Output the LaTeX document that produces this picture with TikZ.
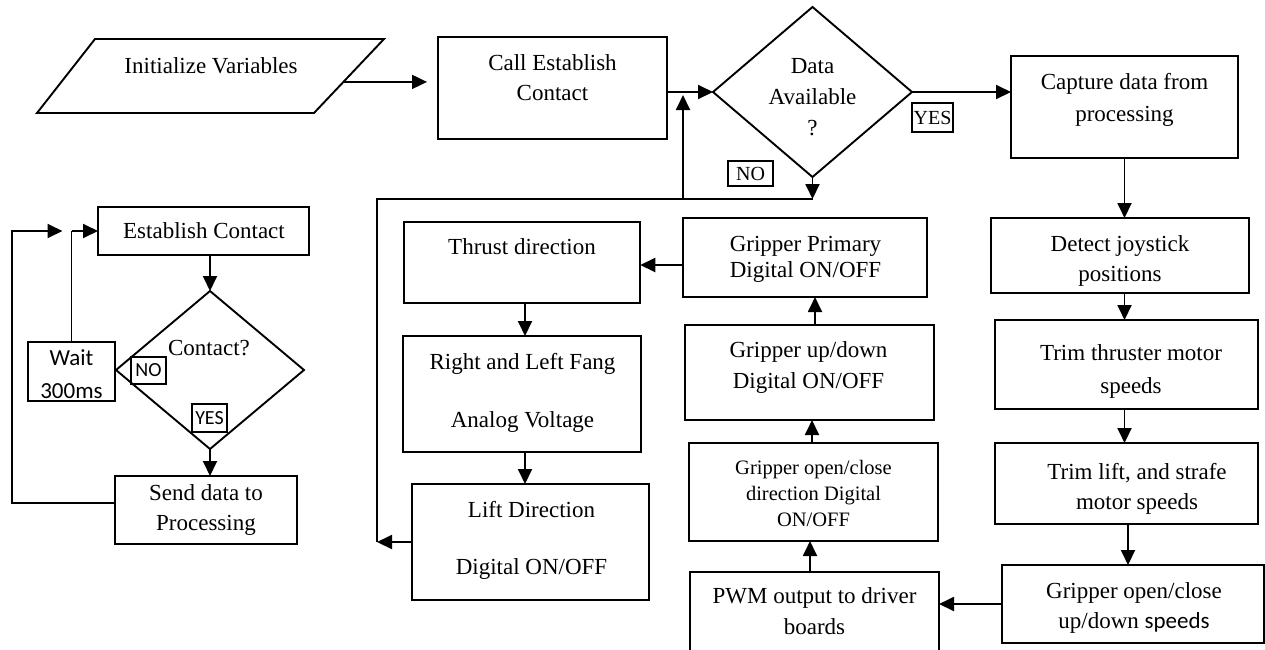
\documentclass[tikz,border=0pt]{standalone}
\usepackage{fontspec}
\setmainfont{Liberation Serif}
\newfontfamily\calfont{Carlito}
\usetikzlibrary{arrows.meta,shapes.geometric,calc}

\tikzset{
  box/.style={draw, line width=1.9pt, inner sep=0pt, outer sep=0pt},
  dia/.style={draw, diamond, line width=1.9pt, inner sep=0pt, outer sep=0pt},
  txt/.style={inner sep=0pt, align=center, text depth=0.22em,
              font=\fontsize{23}{30}\selectfont},
  tag/.style={draw, line width=1.4pt, inner sep=0pt, outer sep=0pt,
              font=\fontsize{20}{20}\selectfont},
  wire/.style={line width=1.9pt},
  arr/.style={wire, -{Triangle[length=15pt,width=14pt]}},
}

\begin{document}
\begin{tikzpicture}[x=1pt,y=-1pt]
\useasboundingbox (0,0) rectangle (1265,649);

% ---------------- main loop: top row ----------------
% input parallelogram
\coordinate (initbl) at (37,113);
\coordinate (inittl) at (95,39);
\coordinate (inittr) at (384,39);
\coordinate (initbr) at (314,113);
\draw[wire, line join=miter] (initbl) -- (inittl) -- (inittr) -- (initbr) -- cycle;
\node[txt] (initt) at (211,67) {Initialize Variables};
\coordinate (initout) at ($(initbr)!0.42!(inittr)$);

\node[box, minimum width=229, minimum height=102] (call) at (552.5,88) {};
\node[txt, font=\fontsize{23}{30}\selectfont] (callt) at (552.5,79) {Call Establish\\Contact};

\node[dia, minimum width=199, minimum height=170] (data) at (812.5,92) {};
\node[txt, font=\fontsize{23}{31}\selectfont] (datat) at (812.5,98) {Data\\Available\\?};
\node[tag, minimum width=45, minimum height=25] (datano) at (750.5,173.5) {NO};
\node[tag, minimum width=41, minimum height=29] (datayes) at (932.5,117.5) {YES};

% ---------------- right column ----------------
\node[box, minimum width=227, minimum height=102] (cap) at (1124.5,107) {};
\node[txt, font=\fontsize{23}{32}\selectfont] (capt) at (1124.5,98) {Capture data from\\processing};

\node[box, minimum width=258, minimum height=75] (det) at (1120,255.5) {};
\node[txt] (dett) at (1120,260) {Detect joystick\\positions};

\node[box, minimum width=263, minimum height=89] (trima) at (1126.5,364.5) {};
\node[txt, font=\fontsize{23}{33}\selectfont] (trimat) at (1131,370.5) {Trim thruster motor\\speeds};

\node[box, minimum width=263, minimum height=81] (trimb) at (1126.5,483.5) {};
\node[txt] (trimbt) at (1137,487) {Trim lift, and strafe\\motor speeds};

\node[box, minimum width=262, minimum height=78] (gspd) at (1133,604) {};
\node[txt] (gspdt) at (1134,607) {Gripper open/close\\up/down {\calfont speeds}};

% ---------------- gripper column ----------------
\node[box, minimum width=249, minimum height=80] (pwm) at (814.5,612) {};
\node[txt, font=\fontsize{23}{31}\selectfont] (pwmt) at (814.5,612.5) {PWM output to driver\\boards};

\node[box, minimum width=249, minimum height=98] (open) at (813.5,492) {};
\node[txt, font=\fontsize{20.5}{26}\selectfont] (opent) at (813.5,494) {Gripper open/close\\direction Digital\\ON/OFF};

\node[box, minimum width=249, minimum height=95] (upd) at (809.5,372.5) {};
\node[txt, font=\fontsize{23}{31}\selectfont] (updt) at (808.5,366.5) {Gripper up/down\\Digital ON/OFF};

\node[box, minimum width=244.5, minimum height=79] (prim) at (805,257.5) {};
\node[txt, font=\fontsize{23}{26}\selectfont] (primt) at (805.5,258) {Gripper Primary\\Digital ON/OFF};

% ---------------- thrust column ----------------
\node[box, minimum width=236.5, minimum height=81] (thrust) at (522,262.5) {};
\node[txt] (thrustt) at (522,248) {Thrust direction};

\node[box, minimum width=237.5, minimum height=116] (fang) at (522,394) {};
\node[txt, font=\fontsize{23}{29}\selectfont] (fangt) at (522.5,391) {Right and Left Fang\\[29pt]Analog Voltage};

\node[box, minimum width=237, minimum height=116] (lift) at (530.5,542) {};
\node[txt, font=\fontsize{23}{28.5}\selectfont] (liftt) at (531.5,538.5) {Lift Direction\\[28.5pt]Digital ON/OFF};

% ---------------- contact routine ----------------
\node[box, minimum width=211, minimum height=48] (est) at (203.5,231) {};
\node[txt] (estt) at (204,232) {Establish Contact};

\node[dia, minimum width=188, minimum height=158] (cont) at (210,370) {};
\node[txt] (contt) at (209,349) {Contact?};
\node[tag, font=\calfont\fontsize{20}{20}\selectfont, minimum width=35, minimum height=27] (cno) at (148.5,370.5) {NO};
\node[tag, font=\calfont\fontsize{20}{20}\selectfont, minimum width=35, minimum height=28] (cyes) at (209.5,418) {YES};

\node[box, minimum width=87, minimum height=59] (wait) at (71.5,371.5) {};
\node[txt, font=\calfont\fontsize{23}{33}\selectfont] (waitt) at (71.5,375.5) {Wait\\300ms};

\node[box, minimum width=182, minimum height=68] (send) at (206,510) {};
\node[txt] (sendt) at (206,509) {Send data to\\Processing};

% ---------------- helper points for routing ----------------
\coordinate (jl) at (377,542);
\coordinate (jt) at (377,199);
\coordinate (jr) at (812.5,199);
\coordinate (jm) at (683,199);
\coordinate (x1128) at (1128,0);
\coordinate (x810) at (810,0);
\coordinate (x812) at (812,0);
\coordinate (x815) at (815,0);
\coordinate (x525) at (525,0);
\coordinate (y265) at (0,265);
\coordinate (fb1) at (12,503);
\coordinate (fb2) at (12,231);

% ---------------- connectors ----------------
\draw[arr, shorten >=11pt] (initout) -- (initout -| call.west);
\draw[arr] (call.east |- data.west) -- (data.west);
\draw[arr] (data.east) -- (data.east -| cap.west);
\draw[arr] (data.south) -- (jr);
\draw[wire] (jl) -- (jt) -- (jr);
\draw[arr, shorten >=3pt] (jm) -- (jm |- data.west);

\draw[arr] (cap.south) -- (cap.south |- det.north);
\draw[arr] (det.south -| cap.south) -- (trima.north -| cap.south);
\draw[arr] (trima.south -| cap.south) -- (trimb.north -| cap.south);
\draw[arr] (trimb.south -| x1128) -- (gspd.north -| x1128);
\draw[arr] (gspd.west) -- (gspd.west -| pwm.east);

\draw[arr] (pwm.north -| x810) -- (open.south -| x810);
\draw[arr] (open.north -| x812) -- (upd.south -| x812);
\draw[arr] (upd.north -| x815) -- (prim.south -| x815);
\draw[arr] (prim.west |- y265) -- (thrust.east |- y265);

\draw[arr] (thrust.south -| x525) -- (fang.north -| x525);
\draw[arr] (fang.south -| x525) -- (lift.north -| x525);
\draw[arr] (lift.west) -- (jl);

\draw[arr] (cont.north |- est.south) -- (cont.north);
\draw[arr] (cont.south) -- (cont.south |- send.north);
\draw[wire] (wait.north) -- (wait.north |- est.west);
\draw[arr] (wait.north |- est.west) -- (est.west);
\draw[arr, shorten >=9pt] (send.west |- fb1) -- (fb1) -- (fb2) -- (wait.north |- est.west);
\end{tikzpicture}
\end{document}
